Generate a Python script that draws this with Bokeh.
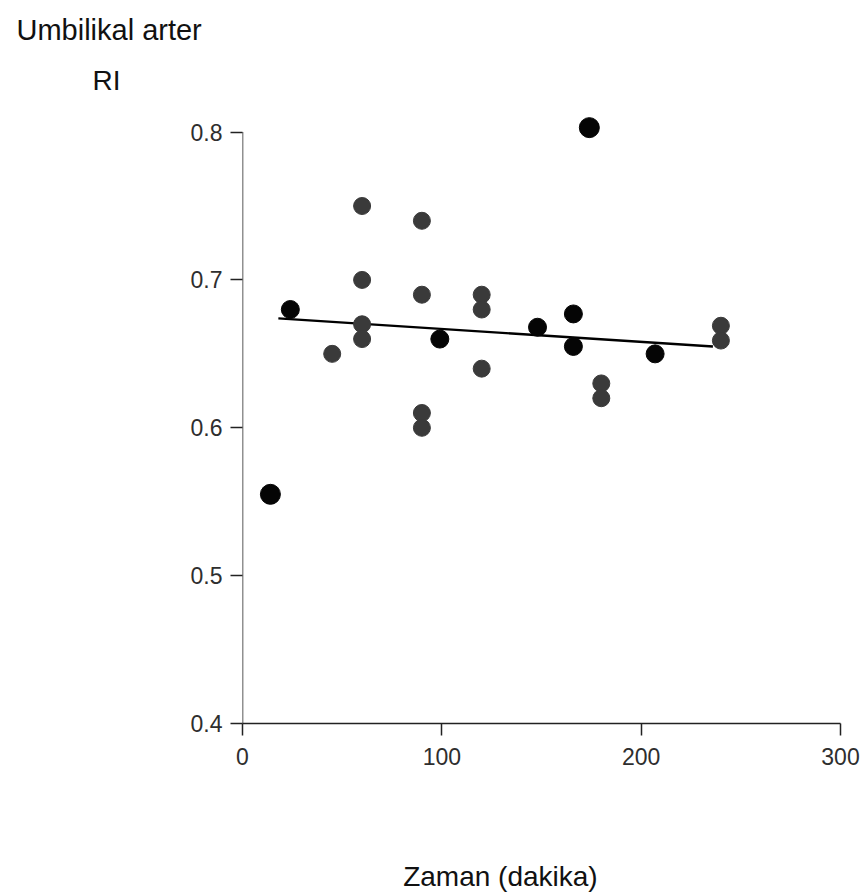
from bokeh.plotting import figure
from bokeh.models import Range1d, FixedTicker, Label
from bokeh.embed import file_html
from bokeh.resources import INLINE

# ---- data ----
x_ticks = [0, 100, 200, 300]
y_ticks = [0.4, 0.5, 0.6, 0.7, 0.8]
y_tick_labels = ["0.4", "0.5", "0.6", "0.7", "0.8"]

gray_time = [45, 60, 60, 60, 60, 90, 90, 90, 90, 120, 120, 120, 180, 180, 240, 240]
gray_ri = [0.650, 0.750, 0.700, 0.670, 0.660, 0.740, 0.690, 0.610, 0.600,
           0.690, 0.680, 0.640, 0.630, 0.620, 0.669, 0.659]

black_time = [24, 99, 148, 166, 166, 207]
black_ri = [0.680, 0.660, 0.668, 0.677, 0.655, 0.650]

black_big_time = [14, 174]
black_big_ri = [0.555, 0.803]

trend_time = [18, 236]
trend_ri = [0.674, 0.655]

title_text = "Umbilikal arter"
y_title = "RI"
x_title = "Zaman (dakika)"

FONT = "Liberation Sans"

p = figure(width=863, height=896, output_backend="svg", toolbar_location=None,
           x_range=Range1d(0, 300), y_range=Range1d(0.4, 0.82),
           min_border_left=242, min_border_right=23,
           min_border_top=102, min_border_bottom=173)
p.title.visible = False
p.outline_line_color = None
p.background_fill_color = "white"
p.border_fill_color = "white"
p.grid.visible = False

for ax in (p.xaxis[0], p.yaxis[0]):
    ax.major_label_text_font = FONT
    ax.major_label_text_font_size = "23px"
    ax.major_label_text_color = "#2e2e2e"
    ax.major_tick_in = 0
    ax.major_tick_out = 12
    ax.major_tick_line_color = "#222222"
    ax.major_tick_line_width = 1.5
    ax.minor_tick_line_color = None

p.xaxis.ticker = FixedTicker(ticks=x_ticks)
p.xaxis.major_label_standoff = 12
p.xaxis.axis_line_color = "#222222"
p.xaxis.axis_line_width = 1.5

p.yaxis.ticker = FixedTicker(ticks=y_ticks)
p.yaxis.major_label_overrides = {t: s for t, s in zip(y_ticks, y_tick_labels)}
p.yaxis.major_label_standoff = 8
p.yaxis.axis_line_color = None

# y axis line only up to the top tick
p.segment(x0=[x_ticks[0]], y0=[min(y_ticks)], x1=[x_ticks[0]], y1=[max(y_ticks)],
          line_color="#222222", line_width=1.5)

# regression line
p.line(trend_time, trend_ri, line_color="black", line_width=2.4)

p.scatter(gray_time, gray_ri, marker="circle", size=17,
          fill_color="#3a3a3a", line_color="#3a3a3a")
p.scatter(black_time, black_ri, marker="circle", size=18,
          fill_color="#050505", line_color="#050505")
p.scatter(black_big_time, black_big_ri, marker="circle", size=20,
          fill_color="#050505", line_color="#050505")

def make_label(text, x, y, align, size):
    return Label(x=x, y=y, text=text, text_font=FONT, text_font_size=size,
                 text_color="#111111", text_align=align,
                 text_baseline="alphabetic")

p.add_layout(make_label(title_text, -113.4, 0.8687, "left", "29px"), "above")
p.add_layout(make_label(y_title, -75.25, 0.8349, "left", "28px"), "above")
p.add_layout(make_label(x_title, 129.4, 0.2965, "center", "28px"), "below")

open("out.html", "w").write(file_html(p, INLINE))
